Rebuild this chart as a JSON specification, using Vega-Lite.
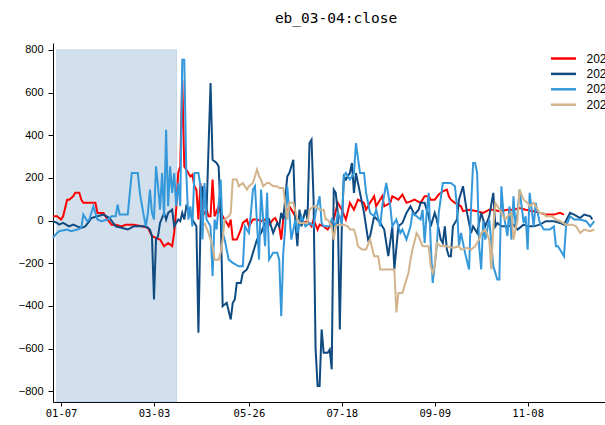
{
 "$schema": "https://vega.github.io/schema/vega-lite/v6.json",
 "width": 552,
 "height": 359,
 "autosize": {"type": "none"},
 "padding": {"left": 53, "top": 43, "right": 0, "bottom": 23},
 "background": "white",
 "config": {"view": {"stroke": null}},
 "title": {"text": "eb_03-04:close", "font": "DejaVu Sans Mono", "fontSize": 14.5, "fontWeight": "normal", "color": "#000000", "anchor": "middle", "dx": 7, "offset": 17},
 "encoding": {
  "x": {"field": "t", "type": "quantitative",
   "scale": {"domain": [0, 273.3], "nice": false, "zero": false},
   "axis": {"values": [4, 50, 97, 143, 189, 235],
    "labelExpr": "datum.value == 4 ? '01-07' : datum.value == 50 ? '03-03' : datum.value == 97 ? '05-26' : datum.value == 143 ? '07-18' : datum.value == 189 ? '09-09' : '11-08'",
    "title": null, "grid": false, "domainColor": "#000000", "domainWidth": 1, "tickColor": "#000000", "tickSize": 4, "labelFont": "DejaVu Sans Mono", "labelFontSize": 10.5, "labelColor": "#000000", "labelPadding": 2, "labelFlush": false, "labelOverlap": false}},
  "y": {"field": "v", "type": "quantitative",
   "scale": {"domain": [-850, 832], "nice": false, "zero": false},
   "axis": {"values": [-800, -600, -400, -200, 0, 200, 400, 600, 800],
    "title": null, "grid": false, "domainColor": "#000000", "domainWidth": 1, "tickColor": "#000000", "tickSize": 5, "labelFont": "Liberation Sans", "labelFontSize": 11, "labelColor": "#000000", "labelPadding": 5}}
 },
 "layer": [
  {
   "data": {"values": [{"t": 1.8, "t2": 61.2, "v": -850, "v2": 800}]},
   "mark": {"type": "rect", "fill": "#4682b4", "fillOpacity": 0.25, "stroke": "#4682b4", "strokeOpacity": 0.2, "strokeWidth": 1},
   "encoding": {"x2": {"field": "t2"}, "y2": {"field": "v2"}}
  },
  {
   "data": {"values": [
{"s":"2024","t":0,"v":20},{"s":"2024","t":2,"v":20},{"s":"2024","t":4,"v":5},{"s":"2024","t":5,"v":20},{"s":"2024","t":7,"v":98},{"s":"2024","t":8,"v":98},{"s":"2024","t":10,"v":114},{"s":"2024","t":11,"v":130},{"s":"2024","t":13,"v":130},{"s":"2024","t":14,"v":98},{"s":"2024","t":15,"v":83},{"s":"2024","t":19,"v":83},{"s":"2024","t":21,"v":83},{"s":"2024","t":22,"v":36},{"s":"2024","t":25,"v":36},{"s":"2024","t":27,"v":5},{"s":"2024","t":29,"v":-19},{"s":"2024","t":31,"v":-19},{"s":"2024","t":34,"v":-27},{"s":"2024","t":36,"v":-19},{"s":"2024","t":40,"v":-19},{"s":"2024","t":44,"v":-27},{"s":"2024","t":47,"v":-34},{"s":"2024","t":49,"v":-73},{"s":"2024","t":53,"v":-89},{"s":"2024","t":55,"v":-120},{"s":"2024","t":57,"v":-105},{"s":"2024","t":59,"v":-120},{"s":"2024","t":60,"v":-58},{"s":"2024","t":61,"v":51},{"s":"2024","t":62,"v":223},{"s":"2024","t":63,"v":254},{"s":"2024","t":64,"v":660},{"s":"2024","t":65,"v":254},{"s":"2024","t":67,"v":223},{"s":"2024","t":68,"v":207},{"s":"2024","t":69,"v":215},{"s":"2024","t":70,"v":161},{"s":"2024","t":71,"v":145},{"s":"2024","t":72,"v":5},{"s":"2024","t":73,"v":176},{"s":"2024","t":74,"v":20},{"s":"2024","t":76,"v":51},{"s":"2024","t":77,"v":20},{"s":"2024","t":78,"v":20},{"s":"2024","t":79,"v":192},{"s":"2024","t":80,"v":20},{"s":"2024","t":82,"v":67},{"s":"2024","t":83,"v":36},{"s":"2024","t":85,"v":5},{"s":"2024","t":87,"v":-27},{"s":"2024","t":88,"v":5},{"s":"2024","t":89,"v":-89},{"s":"2024","t":91,"v":-89},{"s":"2024","t":93,"v":-42},{"s":"2024","t":94,"v":-11},{"s":"2024","t":96,"v":5},{"s":"2024","t":97,"v":-27},{"s":"2024","t":99,"v":5},{"s":"2024","t":101,"v":5},{"s":"2024","t":103,"v":-3},{"s":"2024","t":105,"v":5},{"s":"2024","t":107,"v":-19},{"s":"2024","t":109,"v":5},{"s":"2024","t":110,"v":12},{"s":"2024","t":112,"v":-27},{"s":"2024","t":113,"v":-89},{"s":"2024","t":114,"v":5},{"s":"2024","t":116,"v":36},{"s":"2024","t":117,"v":67},{"s":"2024","t":119,"v":36},{"s":"2024","t":121,"v":5},{"s":"2024","t":122,"v":-3},{"s":"2024","t":124,"v":-11},{"s":"2024","t":126,"v":-3},{"s":"2024","t":128,"v":-27},{"s":"2024","t":129,"v":5},{"s":"2024","t":131,"v":-42},{"s":"2024","t":132,"v":-19},{"s":"2024","t":134,"v":-27},{"s":"2024","t":136,"v":-42},{"s":"2024","t":139,"v":5},{"s":"2024","t":141,"v":83},{"s":"2024","t":143,"v":51},{"s":"2024","t":145,"v":5},{"s":"2024","t":147,"v":83},{"s":"2024","t":149,"v":51},{"s":"2024","t":151,"v":98},{"s":"2024","t":154,"v":83},{"s":"2024","t":155,"v":51},{"s":"2024","t":157,"v":83},{"s":"2024","t":159,"v":114},{"s":"2024","t":160,"v":67},{"s":"2024","t":163,"v":114},{"s":"2024","t":164,"v":67},{"s":"2024","t":167,"v":83},{"s":"2024","t":168,"v":114},{"s":"2024","t":171,"v":98},{"s":"2024","t":173,"v":122},{"s":"2024","t":175,"v":83},{"s":"2024","t":177,"v":90},{"s":"2024","t":179,"v":98},{"s":"2024","t":182,"v":83},{"s":"2024","t":184,"v":114},{"s":"2024","t":186,"v":114},{"s":"2024","t":187,"v":98},{"s":"2024","t":189,"v":98},{"s":"2024","t":191,"v":122},{"s":"2024","t":193,"v":137},{"s":"2024","t":195,"v":145},{"s":"2024","t":196,"v":114},{"s":"2024","t":197,"v":98},{"s":"2024","t":199,"v":83},{"s":"2024","t":202,"v":67},{"s":"2024","t":203,"v":44},{"s":"2024","t":206,"v":51},{"s":"2024","t":210,"v":44},{"s":"2024","t":213,"v":36},{"s":"2024","t":216,"v":51},{"s":"2024","t":218,"v":51},{"s":"2024","t":221,"v":44},{"s":"2024","t":225,"v":51},{"s":"2024","t":228,"v":51},{"s":"2024","t":231,"v":59},{"s":"2024","t":234,"v":51},{"s":"2024","t":238,"v":44},{"s":"2024","t":241,"v":36},{"s":"2024","t":244,"v":28},{"s":"2024","t":248,"v":28},{"s":"2024","t":251,"v":36},{"s":"2024","t":253,"v":28},
{"s":"2023","t":0,"v":-3},{"s":"2023","t":2,"v":-11},{"s":"2023","t":3,"v":-19},{"s":"2023","t":5,"v":-11},{"s":"2023","t":8,"v":-27},{"s":"2023","t":10,"v":-19},{"s":"2023","t":12,"v":-27},{"s":"2023","t":14,"v":-34},{"s":"2023","t":16,"v":-27},{"s":"2023","t":18,"v":-3},{"s":"2023","t":19,"v":12},{"s":"2023","t":22,"v":20},{"s":"2023","t":25,"v":28},{"s":"2023","t":28,"v":12},{"s":"2023","t":31,"v":-27},{"s":"2023","t":34,"v":-34},{"s":"2023","t":37,"v":-42},{"s":"2023","t":40,"v":-27},{"s":"2023","t":43,"v":-27},{"s":"2023","t":46,"v":-27},{"s":"2023","t":48,"v":-42},{"s":"2023","t":49,"v":-73},{"s":"2023","t":50,"v":-370},{"s":"2023","t":51,"v":-89},{"s":"2023","t":52,"v":-73},{"s":"2023","t":53,"v":-11},{"s":"2023","t":55,"v":36},{"s":"2023","t":56,"v":5},{"s":"2023","t":57,"v":36},{"s":"2023","t":59,"v":51},{"s":"2023","t":60,"v":-27},{"s":"2023","t":62,"v":5},{"s":"2023","t":63,"v":-3},{"s":"2023","t":64,"v":36},{"s":"2023","t":65,"v":5},{"s":"2023","t":66,"v":67},{"s":"2023","t":68,"v":36},{"s":"2023","t":69,"v":5},{"s":"2023","t":71,"v":-27},{"s":"2023","t":72,"v":-526},{"s":"2023","t":73,"v":-27},{"s":"2023","t":74,"v":161},{"s":"2023","t":76,"v":36},{"s":"2023","t":78,"v":645},{"s":"2023","t":79,"v":285},{"s":"2023","t":81,"v":270},{"s":"2023","t":82,"v":254},{"s":"2023","t":83,"v":36},{"s":"2023","t":84,"v":-401},{"s":"2023","t":86,"v":-385},{"s":"2023","t":88,"v":-463},{"s":"2023","t":89,"v":-385},{"s":"2023","t":90,"v":-370},{"s":"2023","t":91,"v":-292},{"s":"2023","t":93,"v":-292},{"s":"2023","t":94,"v":-245},{"s":"2023","t":96,"v":-229},{"s":"2023","t":98,"v":-183},{"s":"2023","t":99,"v":-151},{"s":"2023","t":101,"v":-89},{"s":"2023","t":103,"v":-58},{"s":"2023","t":105,"v":-11},{"s":"2023","t":107,"v":5},{"s":"2023","t":109,"v":-58},{"s":"2023","t":111,"v":-11},{"s":"2023","t":112,"v":-27},{"s":"2023","t":113,"v":36},{"s":"2023","t":114,"v":5},{"s":"2023","t":116,"v":207},{"s":"2023","t":117,"v":223},{"s":"2023","t":119,"v":285},{"s":"2023","t":120,"v":-11},{"s":"2023","t":121,"v":-120},{"s":"2023","t":122,"v":51},{"s":"2023","t":123,"v":-27},{"s":"2023","t":125,"v":51},{"s":"2023","t":126,"v":5},{"s":"2023","t":127,"v":363},{"s":"2023","t":128,"v":379},{"s":"2023","t":129,"v":100},{"s":"2023","t":130,"v":-600},{"s":"2023","t":131,"v":-775},{"s":"2023","t":132,"v":-775},{"s":"2023","t":133,"v":-510},{"s":"2023","t":134,"v":-619},{"s":"2023","t":136,"v":-619},{"s":"2023","t":137,"v":-604},{"s":"2023","t":138,"v":-697},{"s":"2023","t":139,"v":145},{"s":"2023","t":140,"v":130},{"s":"2023","t":141,"v":36},{"s":"2023","t":142,"v":-510},{"s":"2023","t":143,"v":-27},{"s":"2023","t":144,"v":207},{"s":"2023","t":145,"v":192},{"s":"2023","t":147,"v":223},{"s":"2023","t":148,"v":270},{"s":"2023","t":149,"v":130},{"s":"2023","t":150,"v":223},{"s":"2023","t":152,"v":130},{"s":"2023","t":154,"v":36},{"s":"2023","t":156,"v":-89},{"s":"2023","t":157,"v":-73},{"s":"2023","t":159,"v":20},{"s":"2023","t":162,"v":-11},{"s":"2023","t":164,"v":-42},{"s":"2023","t":166,"v":-167},{"s":"2023","t":168,"v":-27},{"s":"2023","t":169,"v":-229},{"s":"2023","t":171,"v":-27},{"s":"2023","t":173,"v":-11},{"s":"2023","t":175,"v":36},{"s":"2023","t":177,"v":67},{"s":"2023","t":179,"v":28},{"s":"2023","t":181,"v":51},{"s":"2023","t":182,"v":83},{"s":"2023","t":184,"v":83},{"s":"2023","t":186,"v":20},{"s":"2023","t":187,"v":-27},{"s":"2023","t":189,"v":36},{"s":"2023","t":190,"v":5},{"s":"2023","t":192,"v":-89},{"s":"2023","t":193,"v":-105},{"s":"2023","t":194,"v":-27},{"s":"2023","t":195,"v":-136},{"s":"2023","t":196,"v":-167},{"s":"2023","t":197,"v":-167},{"s":"2023","t":198,"v":-27},{"s":"2023","t":200,"v":5},{"s":"2023","t":201,"v":98},{"s":"2023","t":203,"v":161},{"s":"2023","t":205,"v":36},{"s":"2023","t":207,"v":-58},{"s":"2023","t":208,"v":-27},{"s":"2023","t":210,"v":-58},{"s":"2023","t":212,"v":36},{"s":"2023","t":214,"v":-27},{"s":"2023","t":216,"v":20},{"s":"2023","t":218,"v":130},{"s":"2023","t":219,"v":-27},{"s":"2023","t":220,"v":-11},{"s":"2023","t":222,"v":-27},{"s":"2023","t":225,"v":-27},{"s":"2023","t":228,"v":-19},{"s":"2023","t":230,"v":-42},{"s":"2023","t":233,"v":-19},{"s":"2023","t":235,"v":-27},{"s":"2023","t":238,"v":-27},{"s":"2023","t":241,"v":-19},{"s":"2023","t":244,"v":-3},{"s":"2023","t":248,"v":-3},{"s":"2023","t":251,"v":-11},{"s":"2023","t":253,"v":-19},{"s":"2023","t":256,"v":36},{"s":"2023","t":258,"v":28},{"s":"2023","t":261,"v":12},{"s":"2023","t":263,"v":28},{"s":"2023","t":266,"v":20},{"s":"2023","t":267,"v":5},
{"s":"2022","t":0,"v":-81},{"s":"2022","t":2,"v":-58},{"s":"2022","t":3,"v":-50},{"s":"2022","t":7,"v":-42},{"s":"2022","t":9,"v":-50},{"s":"2022","t":12,"v":-42},{"s":"2022","t":14,"v":-34},{"s":"2022","t":15,"v":28},{"s":"2022","t":17,"v":-3},{"s":"2022","t":18,"v":5},{"s":"2022","t":20,"v":67},{"s":"2022","t":22,"v":5},{"s":"2022","t":24,"v":-3},{"s":"2022","t":27,"v":5},{"s":"2022","t":29,"v":20},{"s":"2022","t":31,"v":20},{"s":"2022","t":32,"v":75},{"s":"2022","t":33,"v":28},{"s":"2022","t":34,"v":28},{"s":"2022","t":37,"v":28},{"s":"2022","t":39,"v":223},{"s":"2022","t":41,"v":223},{"s":"2022","t":42,"v":223},{"s":"2022","t":43,"v":130},{"s":"2022","t":45,"v":20},{"s":"2022","t":46,"v":-27},{"s":"2022","t":47,"v":36},{"s":"2022","t":48,"v":145},{"s":"2022","t":49,"v":36},{"s":"2022","t":50,"v":5},{"s":"2022","t":51,"v":254},{"s":"2022","t":52,"v":161},{"s":"2022","t":53,"v":51},{"s":"2022","t":54,"v":223},{"s":"2022","t":55,"v":20},{"s":"2022","t":56,"v":426},{"s":"2022","t":57,"v":67},{"s":"2022","t":58,"v":254},{"s":"2022","t":59,"v":130},{"s":"2022","t":60,"v":223},{"s":"2022","t":61,"v":67},{"s":"2022","t":62,"v":176},{"s":"2022","t":63,"v":67},{"s":"2022","t":64,"v":753},{"s":"2022","t":65,"v":753},{"s":"2022","t":66,"v":223},{"s":"2022","t":67,"v":5},{"s":"2022","t":68,"v":67},{"s":"2022","t":69,"v":-27},{"s":"2022","t":70,"v":223},{"s":"2022","t":72,"v":223},{"s":"2022","t":73,"v":161},{"s":"2022","t":74,"v":-89},{"s":"2022","t":75,"v":176},{"s":"2022","t":76,"v":5},{"s":"2022","t":78,"v":-27},{"s":"2022","t":79,"v":-261},{"s":"2022","t":80,"v":5},{"s":"2022","t":81,"v":-42},{"s":"2022","t":83,"v":192},{"s":"2022","t":84,"v":-58},{"s":"2022","t":85,"v":-89},{"s":"2022","t":87,"v":-183},{"s":"2022","t":89,"v":-198},{"s":"2022","t":92,"v":-214},{"s":"2022","t":94,"v":-214},{"s":"2022","t":95,"v":-27},{"s":"2022","t":97,"v":-58},{"s":"2022","t":98,"v":36},{"s":"2022","t":99,"v":145},{"s":"2022","t":100,"v":161},{"s":"2022","t":102,"v":-183},{"s":"2022","t":103,"v":145},{"s":"2022","t":105,"v":-120},{"s":"2022","t":106,"v":130},{"s":"2022","t":107,"v":-183},{"s":"2022","t":109,"v":-151},{"s":"2022","t":111,"v":-151},{"s":"2022","t":112,"v":-183},{"s":"2022","t":113,"v":-448},{"s":"2022","t":114,"v":-151},{"s":"2022","t":115,"v":-27},{"s":"2022","t":116,"v":161},{"s":"2022","t":118,"v":-89},{"s":"2022","t":120,"v":5},{"s":"2022","t":121,"v":-58},{"s":"2022","t":123,"v":20},{"s":"2022","t":125,"v":-27},{"s":"2022","t":127,"v":-11},{"s":"2022","t":129,"v":-27},{"s":"2022","t":130,"v":36},{"s":"2022","t":132,"v":114},{"s":"2022","t":133,"v":-11},{"s":"2022","t":134,"v":-27},{"s":"2022","t":137,"v":-27},{"s":"2022","t":138,"v":5},{"s":"2022","t":140,"v":-27},{"s":"2022","t":141,"v":36},{"s":"2022","t":142,"v":20},{"s":"2022","t":143,"v":-27},{"s":"2022","t":144,"v":207},{"s":"2022","t":145,"v":223},{"s":"2022","t":147,"v":192},{"s":"2022","t":149,"v":223},{"s":"2022","t":150,"v":363},{"s":"2022","t":152,"v":223},{"s":"2022","t":154,"v":223},{"s":"2022","t":155,"v":130},{"s":"2022","t":157,"v":36},{"s":"2022","t":159,"v":20},{"s":"2022","t":160,"v":51},{"s":"2022","t":162,"v":-27},{"s":"2022","t":163,"v":67},{"s":"2022","t":165,"v":176},{"s":"2022","t":167,"v":67},{"s":"2022","t":168,"v":-27},{"s":"2022","t":170,"v":5},{"s":"2022","t":172,"v":-58},{"s":"2022","t":173,"v":-42},{"s":"2022","t":175,"v":-89},{"s":"2022","t":177,"v":-27},{"s":"2022","t":178,"v":36},{"s":"2022","t":180,"v":20},{"s":"2022","t":182,"v":5},{"s":"2022","t":183,"v":51},{"s":"2022","t":184,"v":-105},{"s":"2022","t":185,"v":36},{"s":"2022","t":186,"v":130},{"s":"2022","t":187,"v":-105},{"s":"2022","t":188,"v":-292},{"s":"2022","t":190,"v":-120},{"s":"2022","t":191,"v":36},{"s":"2022","t":193,"v":176},{"s":"2022","t":195,"v":176},{"s":"2022","t":197,"v":176},{"s":"2022","t":199,"v":161},{"s":"2022","t":200,"v":67},{"s":"2022","t":201,"v":-120},{"s":"2022","t":202,"v":-58},{"s":"2022","t":204,"v":-151},{"s":"2022","t":206,"v":-229},{"s":"2022","t":207,"v":67},{"s":"2022","t":208,"v":270},{"s":"2022","t":209,"v":270},{"s":"2022","t":210,"v":223},{"s":"2022","t":211,"v":-120},{"s":"2022","t":212,"v":-229},{"s":"2022","t":213,"v":-3},{"s":"2022","t":214,"v":-89},{"s":"2022","t":216,"v":5},{"s":"2022","t":218,"v":-214},{"s":"2022","t":220,"v":-276},{"s":"2022","t":221,"v":-276},{"s":"2022","t":222,"v":161},{"s":"2022","t":223,"v":36},{"s":"2022","t":225,"v":-73},{"s":"2022","t":226,"v":67},{"s":"2022","t":227,"v":-89},{"s":"2022","t":228,"v":114},{"s":"2022","t":229,"v":-27},{"s":"2022","t":230,"v":36},{"s":"2022","t":231,"v":145},{"s":"2022","t":233,"v":-11},{"s":"2022","t":234,"v":20},{"s":"2022","t":235,"v":-136},{"s":"2022","t":236,"v":130},{"s":"2022","t":238,"v":-27},{"s":"2022","t":239,"v":83},{"s":"2022","t":241,"v":-11},{"s":"2022","t":243,"v":-42},{"s":"2022","t":246,"v":-42},{"s":"2022","t":248,"v":-27},{"s":"2022","t":249,"v":-120},{"s":"2022","t":250,"v":-120},{"s":"2022","t":252,"v":-151},{"s":"2022","t":253,"v":-167},{"s":"2022","t":254,"v":-27},{"s":"2022","t":256,"v":20},{"s":"2022","t":258,"v":5},{"s":"2022","t":261,"v":5},{"s":"2022","t":264,"v":-3},{"s":"2022","t":266,"v":-27},{"s":"2022","t":268,"v":-3},
{"s":"2021","t":75,"v":-11},{"s":"2021","t":77,"v":-58},{"s":"2021","t":78,"v":-89},{"s":"2021","t":79,"v":-120},{"s":"2021","t":80,"v":-183},{"s":"2021","t":82,"v":-183},{"s":"2021","t":83,"v":-151},{"s":"2021","t":84,"v":-89},{"s":"2021","t":85,"v":5},{"s":"2021","t":87,"v":20},{"s":"2021","t":88,"v":36},{"s":"2021","t":89,"v":192},{"s":"2021","t":91,"v":192},{"s":"2021","t":92,"v":161},{"s":"2021","t":94,"v":176},{"s":"2021","t":96,"v":145},{"s":"2021","t":97,"v":161},{"s":"2021","t":99,"v":176},{"s":"2021","t":101,"v":239},{"s":"2021","t":102,"v":207},{"s":"2021","t":103,"v":192},{"s":"2021","t":104,"v":161},{"s":"2021","t":106,"v":176},{"s":"2021","t":107,"v":176},{"s":"2021","t":109,"v":161},{"s":"2021","t":111,"v":161},{"s":"2021","t":112,"v":153},{"s":"2021","t":114,"v":153},{"s":"2021","t":116,"v":5},{"s":"2021","t":117,"v":83},{"s":"2021","t":119,"v":83},{"s":"2021","t":121,"v":5},{"s":"2021","t":122,"v":-11},{"s":"2021","t":124,"v":-11},{"s":"2021","t":126,"v":-11},{"s":"2021","t":127,"v":51},{"s":"2021","t":129,"v":67},{"s":"2021","t":130,"v":67},{"s":"2021","t":132,"v":51},{"s":"2021","t":134,"v":51},{"s":"2021","t":135,"v":5},{"s":"2021","t":136,"v":5},{"s":"2021","t":138,"v":-27},{"s":"2021","t":139,"v":-89},{"s":"2021","t":140,"v":-27},{"s":"2021","t":141,"v":-19},{"s":"2021","t":144,"v":-19},{"s":"2021","t":146,"v":-27},{"s":"2021","t":147,"v":-42},{"s":"2021","t":149,"v":-42},{"s":"2021","t":150,"v":-73},{"s":"2021","t":151,"v":-120},{"s":"2021","t":153,"v":-136},{"s":"2021","t":155,"v":-136},{"s":"2021","t":157,"v":-89},{"s":"2021","t":159,"v":-167},{"s":"2021","t":161,"v":-167},{"s":"2021","t":162,"v":-229},{"s":"2021","t":164,"v":-229},{"s":"2021","t":167,"v":-229},{"s":"2021","t":169,"v":-229},{"s":"2021","t":170,"v":-431},{"s":"2021","t":171,"v":-339},{"s":"2021","t":173,"v":-339},{"s":"2021","t":174,"v":-307},{"s":"2021","t":176,"v":-245},{"s":"2021","t":177,"v":-183},{"s":"2021","t":178,"v":-136},{"s":"2021","t":180,"v":-58},{"s":"2021","t":181,"v":-73},{"s":"2021","t":183,"v":-120},{"s":"2021","t":184,"v":-120},{"s":"2021","t":186,"v":-120},{"s":"2021","t":187,"v":-214},{"s":"2021","t":188,"v":-245},{"s":"2021","t":189,"v":-214},{"s":"2021","t":190,"v":-105},{"s":"2021","t":192,"v":-120},{"s":"2021","t":195,"v":-120},{"s":"2021","t":198,"v":-128},{"s":"2021","t":201,"v":-120},{"s":"2021","t":202,"v":-136},{"s":"2021","t":205,"v":-128},{"s":"2021","t":207,"v":-136},{"s":"2021","t":209,"v":-120},{"s":"2021","t":211,"v":-89},{"s":"2021","t":212,"v":-58},{"s":"2021","t":214,"v":-42},{"s":"2021","t":216,"v":-89},{"s":"2021","t":217,"v":-229},{"s":"2021","t":218,"v":-27},{"s":"2021","t":219,"v":83},{"s":"2021","t":220,"v":67},{"s":"2021","t":222,"v":36},{"s":"2021","t":224,"v":5},{"s":"2021","t":225,"v":20},{"s":"2021","t":227,"v":36},{"s":"2021","t":228,"v":-89},{"s":"2021","t":230,"v":5},{"s":"2021","t":231,"v":145},{"s":"2021","t":233,"v":98},{"s":"2021","t":235,"v":83},{"s":"2021","t":236,"v":67},{"s":"2021","t":238,"v":83},{"s":"2021","t":240,"v":51},{"s":"2021","t":241,"v":36},{"s":"2021","t":243,"v":36},{"s":"2021","t":244,"v":20},{"s":"2021","t":247,"v":20},{"s":"2021","t":249,"v":5},{"s":"2021","t":251,"v":-3},{"s":"2021","t":254,"v":-19},{"s":"2021","t":257,"v":-19},{"s":"2021","t":259,"v":-27},{"s":"2021","t":261,"v":-58},{"s":"2021","t":263,"v":-42},{"s":"2021","t":266,"v":-50},{"s":"2021","t":268,"v":-42}
   ]},
   "mark": {"type": "line", "strokeWidth": 2, "interpolate": "linear"},
   "encoding": {
    "color": {"field": "s", "type": "nominal",
     "scale": {"domain": ["2024", "2023", "2022", "2021"], "range": ["#ff0000", "#0f4a80", "#3498db", "#d2b48c"]},
     "legend": {"orient": "none", "legendX": 503, "legendY": 8, "title": null, "symbolType": "M-2,0H2", "symbolSize": 156, "symbolStrokeWidth": 2.5, "labelFont": "Liberation Sans", "labelFontSize": 12, "labelColor": "#000000", "labelOffset": 15.5, "rowPadding": 1.4, "padding": 0}}
   }
  }
 ]
}
